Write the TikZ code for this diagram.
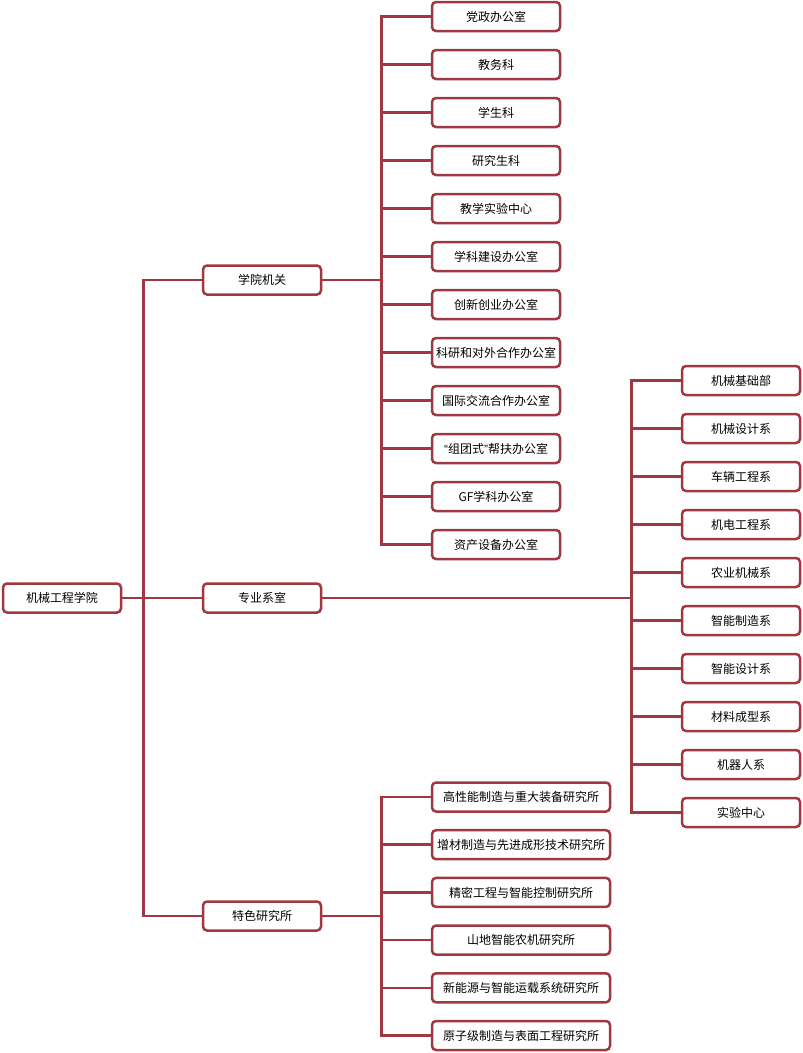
\documentclass[tikz,border=0pt]{standalone}
\usepackage{fontspec}
\setmainfont{Noto Sans CJK SC}
\newfontfamily\latq{Liberation Sans}
\definecolor{lc}{RGB}{160,56,66}
\begin{document}
\begin{tikzpicture}[x=1pt,y=-1pt,
  box/.style={draw=lc,line width=2.5pt,rounded corners=4pt,fill=white,minimum height=29pt,inner sep=0pt,font=\fontsize{12}{12}\selectfont,text=black},
  w120/.style={box,minimum width=118pt},
  w130/.style={box,minimum width=128pt},
  w180/.style={box,minimum width=178pt},
  conn/.style={draw=lc,line width=2.5pt}]
\useasboundingbox (0,0) rectangle (803,1053);
% nodes
\node[w120] (root) at (62,598) {机械工程学院};
\node[w120] (a) at (262,280) {学院机关};
\node[w120] (b) at (262,598) {专业系室};
\node[w120] (c) at (262,916) {特色研究所};
% top group
\foreach \t [count=\i from 0] in {党政办公室,教务科,学生科,研究生科,教学实验中心,学科建设办公室,创新创业办公室,科研和对外合作办公室,国际交流合作办公室,{{\latq“}组团式{\latq”}帮扶办公室},GF学科办公室,资产设备办公室}{
  \node[w130] (a\i) at (496,16.5+48*\i) {\t};
}
% right group
\foreach \t [count=\i from 0] in {机械基础部,机械设计系,车辆工程系,机电工程系,农业机械系,智能制造系,智能设计系,材料成型系,机器人系,实验中心}{
  \node[w120] (b\i) at (741,380.5+48*\i) {\t};
}
% bottom group
\foreach \t [count=\i from 0] in {高性能制造与重大装备研究所,增材制造与先进成形技术研究所,精密工程与智能控制研究所,山地智能农机研究所,新能源与智能运载系统研究所,原子级制造与表面工程研究所}{
  \node[w180] (c\i) at (521,797+47.7*\i) {\t};
}
% connectors
\foreach \n in {a,b,c}{
  \draw[conn] (root.east) -- ++(21,0) |- (\n.west);
}
\foreach \i in {0,...,11}{
  \draw[conn] (a.east) -- ++(59,0) |- (a\i.west);
}
\foreach \i in {0,...,9}{
  \draw[conn] (b.east) -- ++(309,0) |- (b\i.west);
}
\foreach \i in {0,...,5}{
  \draw[conn] (c.east) -- ++(59,0) |- (c\i.west);
}
\end{tikzpicture}
\end{document}
